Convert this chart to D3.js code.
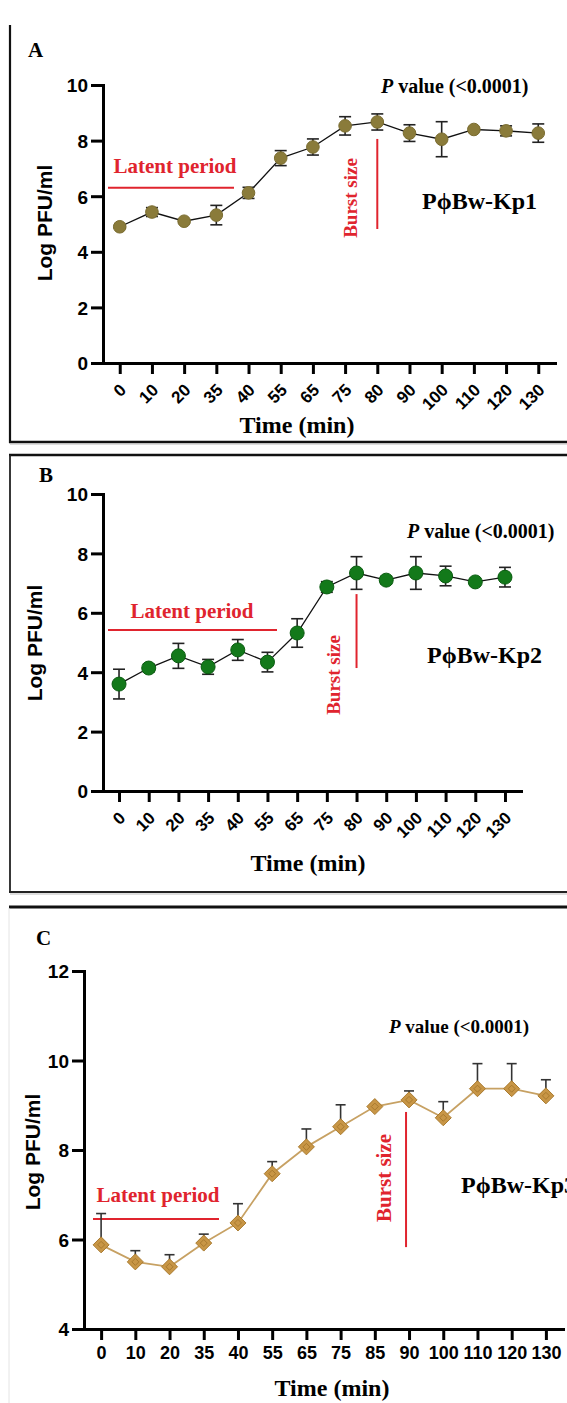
<!DOCTYPE html>
<html>
<head>
<meta charset="utf-8">
<script src="https://cdn.jsdelivr.net/npm/d3@7"></script>
<style>
body { margin: 0; background: #fff; }
svg { display: block; }
</style>
</head>
<body>
<svg id="chart" width="567" height="1403"></svg>
<script>
// time points (min)
var timesA = ["0", "10", "20", "35", "40", "55", "65", "75", "80", "90", "100", "110", "120", "130"];
var timesB = ["0", "10", "20", "35", "40", "55", "65", "75", "80", "90", "100", "110", "120", "130"];
var timesC = ["0", "10", "20", "35", "40", "55", "65", "75", "85", "90", "100", "110", "120", "130"];

// Log PFU/ml, mean and SD
var meanA = [4.9, 5.43, 5.1, 5.32, 6.12, 7.37, 7.77, 8.53, 8.67, 8.27, 8.05, 8.4, 8.35, 8.27];
var errA = [0.05, 0.16, 0.05, 0.35, 0.2, 0.27, 0.29, 0.33, 0.29, 0.3, 0.63, 0.04, 0.18, 0.33];
var meanB = [3.6, 4.14, 4.55, 4.18, 4.75, 4.34, 5.32, 6.87, 7.34, 7.1, 7.34, 7.24, 7.04, 7.2];
var errB = [0.5, 0.13, 0.42, 0.25, 0.35, 0.33, 0.48, 0.18, 0.55, 0.12, 0.55, 0.33, 0.05, 0.33];
var meanC = [5.88, 5.5, 5.39, 5.92, 6.37, 7.47, 8.07, 8.52, 8.97, 9.12, 8.72, 9.37, 9.37, 9.21];
var errC = [0.7, 0.25, 0.27, 0.2, 0.43, 0.27, 0.4, 0.49, 0.05, 0.2, 0.36, 0.56, 0.56, 0.36];

var yTicksAB = [0, 2, 4, 6, 8, 10];
var yTicksC = [4, 6, 8, 10, 12];

var SERIF = "'Liberation Serif', 'Times New Roman', serif";
var SANS = "'Liberation Sans', Arial, sans-serif";
var RED = '#e0242e';

var svg = d3.select('#chart');

// panel frames
function frameLine(x1, y1, x2, y2, col, w) {
    svg.append('line')
        .attr('x1', x1).attr('y1', y1).attr('x2', x2).attr('y2', y2)
        .attr('stroke', col).attr('stroke-width', w);
}
frameLine(10, 25, 10, 443, '#111', 2.2);
frameLine(9, 442, 567, 442, '#111', 2.5);
frameLine(10, 444, 567, 444, '#bbb', 1);
frameLine(9, 455, 567, 455, '#111', 2.5);
frameLine(10, 455, 10, 893, '#222', 1.8);
frameLine(9, 892, 567, 892, '#222', 2.2);
frameLine(10, 894, 567, 894, '#bbb', 1);
frameLine(9, 907, 567, 907, '#111', 2.8);
frameLine(9, 908, 9, 1403, '#e4e4e4', 1);

function drawPanel(p) {
    var g = svg.append('g');
    var x = d3.scalePoint().domain(p.times).range([p.left, p.right]).padding(p.pad);
    var y = d3.scaleLinear().domain(p.yDomain).range([p.bottom, p.top]);

    // axes
    var ya = g.append('g')
        .attr('transform', 'translate(' + p.left + ',0)')
        .call(d3.axisLeft(y).tickValues(p.yTicks).tickSize(12).tickPadding(3).tickSizeOuter(0));
    var xa = g.append('g')
        .attr('transform', 'translate(0,' + p.bottom + ')')
        .call(d3.axisBottom(x).tickSize(11).tickSizeOuter(0));
    [ya, xa].forEach(function(a) {
        a.select('.domain').attr('stroke', '#000').attr('stroke-width', 3).attr('stroke-linecap', 'square');
        a.selectAll('.tick line').attr('stroke', '#000').attr('stroke-width', 3);
        a.selectAll('.tick text').attr('fill', '#000')
            .style('font-family', SANS).style('font-weight', 'bold');
    });
    ya.selectAll('.tick text').style('font-size', '19px').attr('dy', '0.36em');
    if (p.rotate) {
        xa.selectAll('.tick text')
            .style('font-size', '17px')
            .attr('text-anchor', 'end')
            .attr('x', 0).attr('y', 0).attr('dy', 0)
            .attr('transform', 'translate(7,28) rotate(-45)');
    } else {
        xa.selectAll('.tick text')
            .style('font-size', '18px')
            .attr('y', 17).attr('dy', '0.71em');
    }

    // axis titles
    g.append('text')
        .attr('transform', 'translate(' + p.yLabelX + ',' + p.yLabelY + ') rotate(-90)')
        .attr('text-anchor', 'middle')
        .style('font-family', SANS).style('font-weight', 'bold').style('font-size', '21px')
        .text('Log PFU/ml');
    g.append('text')
        .attr('x', p.xLabelX).attr('y', p.xLabelY)
        .attr('text-anchor', 'middle')
        .style('font-family', SERIF).style('font-weight', 'bold').style('font-size', '24px')
        .text('Time (min)');

    // panel letter
    g.append('text')
        .attr('x', p.letterX).attr('y', p.letterY)
        .style('font-family', SERIF).style('font-weight', 'bold').style('font-size', '21px')
        .text(p.letter);

    // latent period
    g.append('line')
        .attr('x1', p.latX0).attr('x2', p.latX1)
        .attr('y1', y(p.latY)).attr('y2', y(p.latY))
        .attr('stroke', RED).attr('stroke-width', 2);
    g.append('text')
        .attr('x', p.latTextX).attr('y', y(p.latY) - p.latTextGap)
        .attr('text-anchor', 'middle')
        .attr('fill', RED)
        .style('font-family', SERIF).style('font-weight', 'bold').style('font-size', '21px')
        .text('Latent period');

    // burst size
    var bx = x(p.burstAt) + p.burstDx;
    g.append('line')
        .attr('x1', bx).attr('x2', bx)
        .attr('y1', y(p.burstY0)).attr('y2', y(p.burstY1))
        .attr('stroke', RED).attr('stroke-width', 2);
    g.append('text')
        .attr('transform', 'translate(' + p.burstTextX + ',' + p.burstTextY + ') rotate(-90)')
        .attr('text-anchor', 'middle')
        .attr('fill', RED)
        .style('font-family', SERIF).style('font-weight', 'bold').style('font-size', p.burstSize + 'px')
        .text('Burst size');

    // p value
    var pv = g.append('text')
        .attr('x', p.pvX).attr('y', p.pvY)
        .style('font-family', SERIF).style('font-weight', 'bold').style('font-size', p.pvSize + 'px');
    pv.append('tspan').style('font-style', 'italic').text('P');
    pv.append('tspan').text(' value (<0.0001)');

    // phage name
    g.append('text')
        .attr('x', p.nameX).attr('y', p.nameY)
        .style('font-family', SERIF).style('font-weight', 'bold').style('font-size', '24px')
        .text(p.name);

    var pts = p.times.map(function(t, i) { return {t: t, v: p.mean[i], e: p.err[i]}; });

    // connecting line
    g.append('path')
        .datum(pts)
        .attr('fill', 'none')
        .attr('stroke', p.lineColor)
        .attr('stroke-width', p.lineWidth)
        .attr('d', d3.line().x(function(d) { return x(d.t); }).y(function(d) { return y(d.v); }));

    // error bars
    var eb = g.append('g').attr('stroke', p.errColor).attr('stroke-width', 1.6).attr('fill', 'none');
    pts.forEach(function(d) {
        var lo = p.upOnly ? d.v : d.v - d.e;
        var hi = d.v + d.e;
        eb.append('line').attr('x1', x(d.t)).attr('x2', x(d.t)).attr('y1', y(lo)).attr('y2', y(hi));
        eb.append('line').attr('x1', x(d.t) - p.cap).attr('x2', x(d.t) + p.cap).attr('y1', y(hi)).attr('y2', y(hi));
        if (!p.upOnly) {
            eb.append('line').attr('x1', x(d.t) - p.cap).attr('x2', x(d.t) + p.cap).attr('y1', y(lo)).attr('y2', y(lo));
        }
    });

    // markers
    if (p.diamond) {
        var mg = g.append('g');
        mg.selectAll('path.outer')
            .data(pts).enter()
            .append('path')
            .attr('class', 'outer')
            .attr('transform', function(d) { return 'translate(' + x(d.t) + ',' + y(d.v) + ')'; })
            .attr('d', 'M0,-8L8,0L0,8L-8,0Z')
            .attr('fill', p.fill).attr('stroke', p.stroke).attr('stroke-width', 1);
        mg.selectAll('path.inner')
            .data(pts).enter()
            .append('path')
            .attr('class', 'inner')
            .attr('transform', function(d) { return 'translate(' + x(d.t) + ',' + y(d.v) + ')'; })
            .attr('d', 'M0,-3.5L3.5,0L0,3.5L-3.5,0Z')
            .attr('fill', 'none').attr('stroke', p.stroke).attr('stroke-width', 1);
    } else {
        g.append('g').selectAll('circle')
            .data(pts).enter()
            .append('circle')
            .attr('cx', function(d) { return x(d.t); })
            .attr('cy', function(d) { return y(d.v); })
            .attr('r', p.r)
            .attr('fill', p.fill).attr('stroke', p.stroke).attr('stroke-width', 1);
    }
}

drawPanel({
    times: timesA, mean: meanA, err: errA,
    left: 103, right: 555, pad: 0.52, top: 85, bottom: 363, yDomain: [0, 10], yTicks: yTicksAB,
    rotate: true,
    yLabelX: 52, yLabelY: 223, xLabelX: 297, xLabelY: 433,
    letter: 'A', letterX: 28, letterY: 57,
    latX0: 108, latX1: 234, latY: 6.3, latTextX: 175, latTextGap: 15,
    burstAt: '80', burstDx: 0, burstY0: 8.06, burstY1: 4.82, burstTextX: 357, burstTextY: 198, burstSize: 19,
    pvX: 381, pvY: 93, pvSize: 20,
    name: 'P\u03d5Bw-Kp1', nameX: 422, nameY: 209,
    lineColor: '#111', lineWidth: 1.3, errColor: '#222', cap: 6, upOnly: false,
    diamond: false, r: 6.3, fill: '#8a7b3a', stroke: '#7a6c30'
});

drawPanel({
    times: timesB, mean: meanB, err: errB,
    left: 103, right: 521, pad: 0.54, top: 494, bottom: 791, yDomain: [0, 10], yTicks: yTicksAB,
    rotate: true,
    yLabelX: 42, yLabelY: 643, xLabelX: 308, xLabelY: 871,
    letter: 'B', letterX: 39, letterY: 482,
    latX0: 108, latX1: 277, latY: 5.42, latTextX: 192, latTextGap: 12,
    burstAt: '80', burstDx: 0, burstY0: 6.63, burstY1: 4.14, burstTextX: 340, burstTextY: 675, burstSize: 19,
    pvX: 407, pvY: 538, pvSize: 20,
    name: 'P\u03d5Bw-Kp2', nameX: 427, nameY: 663,
    lineColor: '#111', lineWidth: 1.3, errColor: '#222', cap: 6, upOnly: false,
    diamond: false, r: 7, fill: '#13791a', stroke: '#0a5c10'
});

drawPanel({
    times: timesC, mean: meanC, err: errC,
    left: 84, right: 563, pad: 0.5, top: 971, bottom: 1329, yDomain: [4, 12], yTicks: yTicksC,
    rotate: false,
    yLabelX: 40, yLabelY: 1152, xLabelX: 332, xLabelY: 1396,
    letter: 'C', letterX: 36, letterY: 945,
    latX0: 93, latX1: 219, latY: 6.46, latTextX: 158, latTextGap: 17,
    burstAt: '90', burstDx: -3, burstY0: 8.85, burstY1: 5.83, burstTextX: 391, burstTextY: 1178, burstSize: 21,
    pvX: 389, pvY: 1033, pvSize: 19,
    name: 'P\u03d5Bw-Kp3', nameX: 461, nameY: 1193,
    lineColor: '#c7a163', lineWidth: 1.8, errColor: '#333', cap: 5, upOnly: true,
    diamond: true, fill: '#c89646', stroke: '#a97a2e'
});
</script>
</body>
</html>
